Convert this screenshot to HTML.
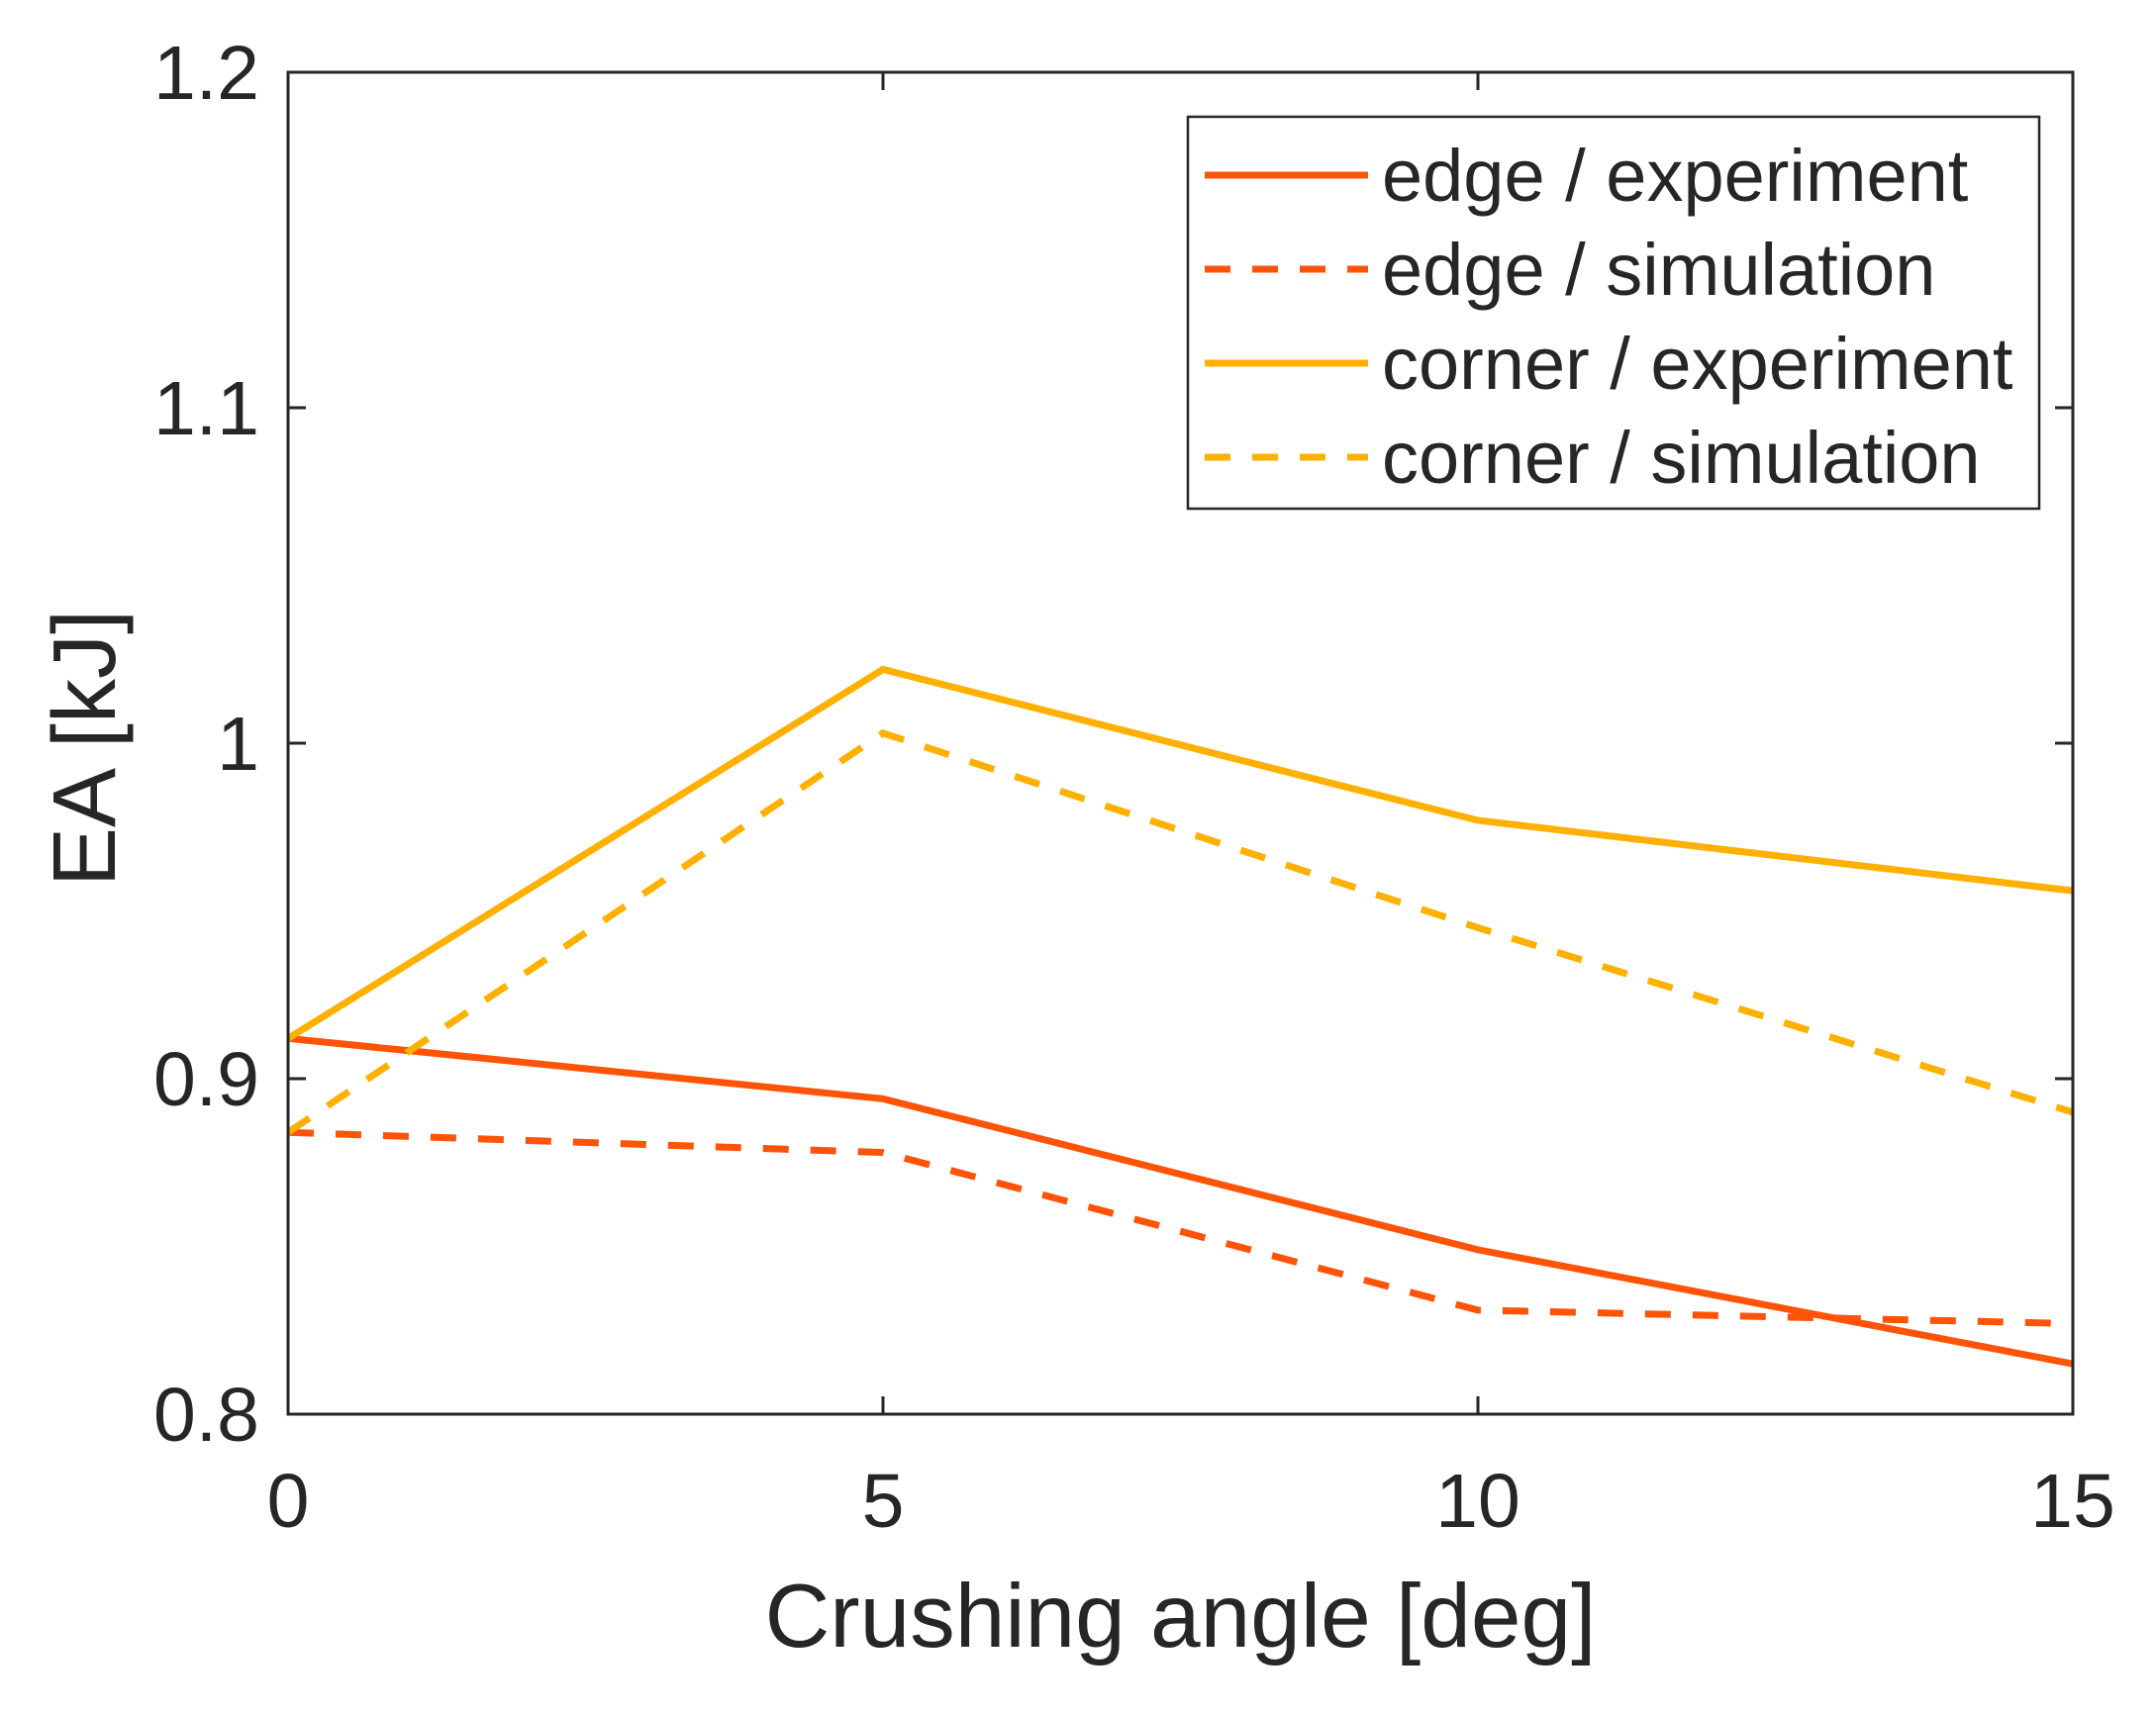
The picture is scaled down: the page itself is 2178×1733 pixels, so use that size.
<!DOCTYPE html>
<html><head><meta charset="utf-8"><style>html,body{margin:0;padding:0;background:#fff}svg{display:block}text{font-family:"Liberation Sans",Arial,sans-serif;fill:#262626}</style></head>
<body>
<svg id="chart" width="2178" height="1733" viewBox="0 0 2178 1733" xmlns="http://www.w3.org/2000/svg"></svg>
<script>
const xCategories=[0,5,10,15];
const edgeExperiment=[0.912,0.894,0.849,0.815];
const edgeSimulation=[0.884,0.878,0.831,0.827];
const cornerExperiment=[0.912,1.022,0.977,0.956];
const cornerSimulation=[0.884,1.003,0.945,0.890];
const xTickLabels=["0","5","10","15"];
const yTicks=[0.8,0.9,1,1.1,1.2];
const yTickLabels=["0.8","0.9","1","1.1","1.2"];

const L=291,R=2094,T=73,B=1429;
const xs=v=>L+(v-0)/(15-0)*(R-L);
const ys=v=>B-(v-0.8)/(1.2-0.8)*(B-T);
const svg=document.getElementById('chart');
const NS='http://www.w3.org/2000/svg';
function mk(tag,attrs,parent){const e=document.createElementNS(NS,tag);for(const k in attrs)e.setAttribute(k,attrs[k]);(parent||svg).appendChild(e);return e;}

const series=[
 {name:'edge-experiment',vals:edgeExperiment,color:'#FF5308',dash:null,label:'edge / experiment'},
 {name:'edge-simulation',vals:edgeSimulation,color:'#FF5308',dash:'26 22',label:'edge / simulation'},
 {name:'corner-experiment',vals:cornerExperiment,color:'#FFB000',dash:null,label:'corner / experiment'},
 {name:'corner-simulation',vals:cornerSimulation,color:'#FFB000',dash:'26 22',label:'corner / simulation'}
];
series.forEach(s=>{
 const p=mk('polyline',{points:s.vals.map((v,i)=>xs(xCategories[i])+','+ys(v)).join(' '),fill:'none',stroke:s.color,'stroke-width':7});
 if(s.dash)p.setAttribute('stroke-dasharray',s.dash);
 
 
});

const box=mk('rect',{x:L,y:T,width:R-L,height:B-T,fill:'none',stroke:'#262626','stroke-width':3});



xCategories.forEach((c,i)=>{
 const x=xs(c);
 mk('line',{x1:x,x2:x,y1:B,y2:B-18,stroke:'#262626','stroke-width':3});
 mk('line',{x1:x,x2:x,y1:T,y2:T+18,stroke:'#262626','stroke-width':3});
 const t=mk('text',{x:x,y:1543,'text-anchor':'middle','font-size':77});
 t.textContent=xTickLabels[i];
 
 
});
yTicks.forEach((v,i)=>{
 const y=ys(v);
 mk('line',{x1:L,x2:L+18,y1:y,y2:y,stroke:'#262626','stroke-width':3});
 mk('line',{x1:R,x2:R-18,y1:y,y2:y,stroke:'#262626','stroke-width':3});
 const t=mk('text',{x:262,y:y+27,'text-anchor':'end','font-size':77});
 t.textContent=yTickLabels[i];
 
 
});

const xt=mk('text',{x:(L+R)/2,y:1664,'text-anchor':'middle','font-size':91});
xt.textContent='Crushing angle [deg]';


const yt=mk('text',{x:0,y:0,'text-anchor':'middle','font-size':90,transform:'translate(116,756) rotate(-90)'});
yt.textContent='EA [kJ]';



const lg=mk('g',{});


mk('rect',{x:1200,y:118,width:860,height:396,fill:'#fff',stroke:'#262626','stroke-width':2.5},lg);
series.forEach((s,i)=>{
 const y=177+i*95;
 const ln=mk('line',{x1:1217,x2:1382,y1:y,y2:y,stroke:s.color,'stroke-width':7},lg);
 if(s.dash)ln.setAttribute('stroke-dasharray','26 22');
 const t=mk('text',{x:1396,y:y+26,'font-size':74},lg);
 t.textContent=s.label;
 
 
});
</script>
</body></html>
